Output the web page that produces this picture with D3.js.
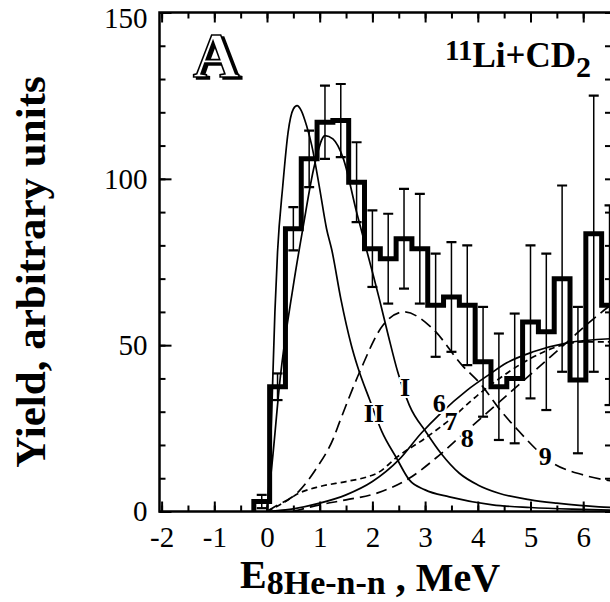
<!DOCTYPE html>
<html>
<head>
<meta charset="utf-8">
<script src="https://cdn.jsdelivr.net/npm/d3@7"></script>
<style>
  body { margin: 0; background: #fff; }
  text { font-family: "Liberation Serif", "DejaVu Serif", serif; }
</style>
</head>
<body>
<div id="chart"></div>
<script>
// histogram of 8He-n-n energy (bin centres in MeV, width 0.3)
const binCenters = [-0.1, 0.2, 0.5, 0.8, 1.1, 1.4, 1.7, 2.0, 2.3, 2.6, 2.9, 3.2, 3.5, 3.8, 4.1, 4.4, 4.7, 5.0, 5.3, 5.6, 5.9, 6.2, 6.5];
const binWidth = 0.3;
const counts = [3, 37.5, 85, 106, 117, 117.5, 99, 79, 76, 82, 79, 62, 64.5, 62, 45, 37.5, 40, 57, 54, 70, 39.5, 83.5, 62];
const errors = [2, 4, 6.5, 8.5, 11, 11, 12, 11.5, 13.5, 15, 16.5, 15.5, 16.5, 18, 16.5, 16, 19.5, 23, 23.5, 28, 22, 41.5, 30];

// model curves
const curveII_E = [0.0, 0.05, 0.1, 0.15, 0.2, 0.3, 0.4, 0.5, 0.57, 0.65, 0.75, 0.85, 1.0, 1.13, 1.23, 1.4, 1.6, 1.72, 1.95, 2.18, 2.46, 2.7, 3.0, 3.46, 4.28, 5.0, 5.8, 6.6];
const curveII_Y = [0, 12, 35, 60, 78, 98, 114, 121, 122, 120.5, 116, 110, 97, 85, 78.6, 64, 50, 43.5, 33.5, 24, 16, 9.5, 6.5, 4.4, 2, 1.2, 0.7, 0.4];
const curveI_E = [0.0, 0.1, 0.25, 0.5, 0.68, 0.9, 1.1, 1.25, 1.45, 1.7, 2.0, 2.13, 2.3, 2.48, 2.7, 3.03, 3.3, 3.65, 4.0, 4.4, 5.0, 5.5, 6.3, 6.6];
const curveI_Y = [0, 15, 40, 68, 85, 104, 113, 112, 106, 90, 72, 64, 53, 42, 32, 23.6, 17.5, 11.5, 8, 5.5, 3.5, 2.5, 1.4, 1.2];
const curve9_E = [0, 0.1, 0.6, 0.94, 1.26, 1.38, 1.76, 2.2, 2.6, 3.14, 3.7, 4.07, 4.4, 4.73, 5.42, 6.0, 6.6];
const curve9_Y = [0, 1, 6, 13, 22, 27, 42, 56, 60, 55, 44, 38, 31, 25, 14.6, 11, 9];
const curve6_E = [0, 0.5, 1, 1.5, 2.0, 2.5, 2.93, 3.3, 3.8, 4.2, 4.55, 5.05, 5.7, 6.6];
const curve6_Y = [0, 0.8, 2.5, 5, 9, 15.5, 23.6, 29.6, 36.5, 41, 44.7, 48, 50.7, 52];
const curve7_E = [0, 0.3, 0.62, 1.0, 1.5, 1.9, 2.1, 2.47, 3.0, 3.5, 4.0, 4.5, 5.0, 5.6, 6.0, 6.6];
const curve7_Y = [0, 2.5, 5.6, 7.5, 9, 10.4, 11.6, 16.4, 22, 28, 35, 41, 46, 50, 51, 51];
const curve8_E = [0.5, 1.0, 1.5, 2.1, 2.7, 3.2, 3.7, 4.2, 4.7, 5.2, 5.7, 6.2, 6.6];
const curve8_Y = [0, 2, 3.5, 5.6, 10, 16, 23, 30, 37, 44, 51, 58, 63];

const xTickLabels = [-2, -1, 0, 1, 2, 3, 4, 5, 6];
const yTickLabels = [0, 50, 100, 150];

// curve labels: [text, E, yield]
const curveLabels = [["II", 2.03, 29.5], ["I", 2.62, 37.4], ["6", 3.27, 32.5], ["7", 3.49, 27.2], ["8", 3.8, 21.8], ["9", 5.28, 16.4]];

const width = 610, height = 602;
const svg = d3.select("#chart").append("svg")
    .attr("width", width)
    .attr("height", height);

const x = d3.scaleLinear().domain([-2, 6]).range([161.6, 583.2]);
const y = d3.scaleLinear().domain([0, 150]).range([511.5, 12.5]);

const frameL = 159.5, frameR = 612, frameT = 12.5, frameB = 511.5;

const defs = svg.append("defs");
defs.append("clipPath").attr("id", "plot")
    .append("rect").attr("x", frameL).attr("y", frameT)
    .attr("width", frameR - frameL).attr("height", frameB - frameT);

// shadow for the outlined panel letter
const shadow = defs.append("filter").attr("id", "shadow")
    .attr("x", "-20%").attr("y", "-20%").attr("width", "140%").attr("height", "140%");
shadow.append("feOffset").attr("in", "SourceAlpha").attr("dx", 2.5).attr("dy", 2).attr("result", "off");
const merge = shadow.append("feMerge");
merge.append("feMergeNode").attr("in", "off");
merge.append("feMergeNode").attr("in", "SourceGraphic");

const plot = svg.append("g").attr("clip-path", "url(#plot)");

// model curves
const line = d3.line()
    .x(d => x(d[0]))
    .y(d => y(d[1]))
    .curve(d3.curveMonotoneX);

function drawCurve(es, ys, dash) {
    plot.append("path")
        .datum(es.map((e, i) => [e, ys[i]]))
        .attr("d", line)
        .attr("fill", "none")
        .attr("stroke", "#000")
        .attr("stroke-width", 1.7)
        .attr("stroke-dasharray", dash);
}
drawCurve(curve6_E, curve6_Y, null);
drawCurve(curve7_E, curve7_Y, "6,4");
drawCurve(curve8_E, curve8_Y, "11,6");
drawCurve(curve9_E, curve9_Y, "12,6");
drawCurve(curveI_E, curveI_Y, null);
drawCurve(curveII_E, curveII_Y, null);

// error bars
const err = plot.append("g").attr("stroke", "#000");
binCenters.forEach((c, i) => {
    const cx = x(c);
    err.append("line")
        .attr("x1", cx).attr("x2", cx)
        .attr("y1", y(counts[i] + errors[i])).attr("y2", y(counts[i] - errors[i]))
        .attr("stroke-width", 1.5);
    [counts[i] + errors[i], counts[i] - errors[i]].forEach(v => {
        err.append("line")
            .attr("x1", cx - 5).attr("x2", cx + 5)
            .attr("y1", y(v)).attr("y2", y(v))
            .attr("stroke-width", 2.2);
    });
});

// histogram steps
const steps = [[binCenters[0] - binWidth / 2, 0]];
binCenters.forEach((c, i) => {
    steps.push([c - binWidth / 2, counts[i]]);
    steps.push([c + binWidth / 2, counts[i]]);
});
plot.append("path")
    .datum(steps)
    .attr("d", d3.line().x(d => x(d[0])).y(d => y(d[1])))
    .attr("fill", "none")
    .attr("stroke", "#000")
    .attr("stroke-width", 5)
    .attr("stroke-linejoin", "miter");

// curve labels with white halo so the lines break around them
svg.append("g").selectAll("text")
    .data(curveLabels)
    .join("text")
    .attr("x", d => x(d[1]))
    .attr("y", d => y(d[2]))
    .attr("text-anchor", "middle")
    .attr("dominant-baseline", "central")
    .attr("font-size", 26)
    .attr("font-weight", "bold")
    .attr("stroke", "#fff")
    .attr("stroke-width", 4)
    .attr("paint-order", "stroke")
    .text(d => d[0]);

// frame
svg.append("path")
    .attr("d", `M${frameR},${frameT}H${frameL}V${frameB}H${frameR}`)
    .attr("fill", "none")
    .attr("stroke", "#000")
    .attr("stroke-width", 2.5);

// axes (inward ticks)
function styleAxis(g) {
    g.select(".domain").remove();
    g.selectAll(".tick line").attr("stroke-width", 2);
    g.selectAll("text").attr("font-size", 29).attr("font-family", "Liberation Serif").attr("fill", "#000");
}

svg.append("g").attr("transform", `translate(${frameL},0)`)
    .call(d3.axisLeft(y).tickValues(y.ticks(15)).tickSize(-6).tickFormat(""))
    .call(styleAxis);
svg.append("g").attr("transform", `translate(${frameL},0)`)
    .call(d3.axisLeft(y).tickValues(yTickLabels).tickSize(-12).tickPadding(12).tickFormat(d => String(d)))
    .call(styleAxis)
    .call(g => g.selectAll("text").filter(d => d === 150).attr("dy", "0.5em"));
svg.append("g").attr("transform", `translate(${frameR},0)`)
    .call(d3.axisRight(y).tickValues(y.ticks(15)).tickSize(-7).tickFormat(""))
    .call(styleAxis);

svg.append("g").attr("transform", `translate(0,${frameB})`)
    .call(d3.axisBottom(x).tickValues(x.ticks(16)).tickSize(-6).tickFormat(""))
    .call(styleAxis);
svg.append("g").attr("transform", `translate(0,${frameB})`)
    .call(d3.axisBottom(x).tickValues(xTickLabels).tickSize(-10).tickPadding(15).tickFormat(d => String(d)))
    .call(styleAxis);
svg.append("g").attr("transform", `translate(0,${frameT})`)
    .call(d3.axisTop(x).tickValues(x.ticks(16)).tickSize(-6).tickFormat(""))
    .call(styleAxis);
svg.append("g").attr("transform", `translate(0,${frameT})`)
    .call(d3.axisTop(x).tickValues(xTickLabels).tickSize(-10).tickFormat(""))
    .call(styleAxis);

// axis titles
svg.append("text")
    .attr("transform", "translate(45,272) rotate(-90)")
    .attr("text-anchor", "middle")
    .attr("font-size", 43)
    .attr("font-weight", "bold")
    .text("Yield, arbitrary units");

const xt = svg.append("text")
    .attr("x", 240).attr("y", 588)
    .attr("font-weight", "bold")
    .attr("font-size", 40);
xt.append("tspan").text("E");
xt.append("tspan").attr("font-size", 34).attr("dy", 6).text("8He-n-n");
xt.append("tspan").attr("dy", -3).text(" , MeV");

// reaction label
const rl = svg.append("text")
    .attr("x", 445).attr("y", 60)
    .attr("font-weight", "bold")
    .attr("font-size", 29);
rl.append("tspan").text("11");
rl.append("tspan").attr("font-size", 35).attr("dy", 7).text("Li+CD");
rl.append("tspan").attr("font-size", 30).attr("dy", 10).text("2");

// panel letter, outlined with a shadow
svg.append("text")
    .attr("x", 216).attr("y", 77)
    .attr("text-anchor", "middle")
    .attr("font-size", 64).attr("font-weight", "bold")
    .attr("fill", "#fff").attr("stroke", "#000").attr("stroke-width", 1.6)
    .attr("filter", "url(#shadow)")
    .text("A");
</script>
</body>
</html>
